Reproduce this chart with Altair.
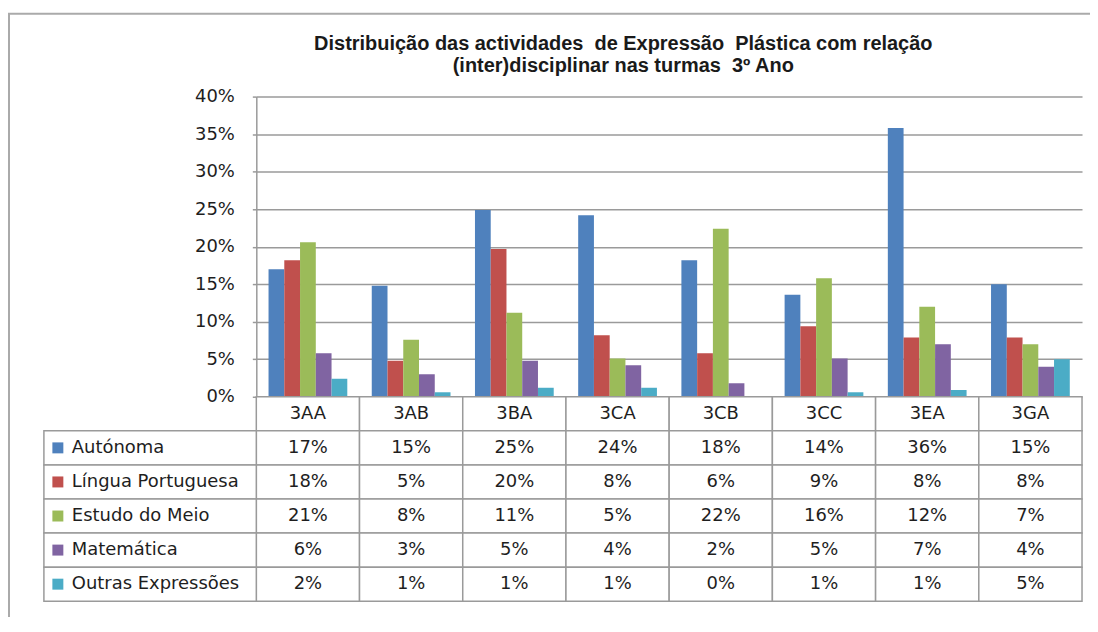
import altair as alt
import pandas as pd

cats = ["3AA", "3AB", "3BA", "3CA", "3CB", "3CC", "3EA", "3GA"]
series = ["Autónoma", "Língua Portuguesa", "Estudo do Meio", "Matemática", "Outras Expressões"]
colors = ["#4F81BD", "#C0504D", "#9BBB59", "#8064A2", "#4BACC6"]

autonoma = [0.170, 0.148, 0.249, 0.242, 0.182, 0.136, 0.358, 0.150]
lingua = [0.182, 0.048, 0.197, 0.082, 0.058, 0.094, 0.079, 0.079]
estudo = [0.206, 0.076, 0.112, 0.051, 0.224, 0.158, 0.120, 0.070]
matematica = [0.058, 0.030, 0.048, 0.042, 0.018, 0.051, 0.070, 0.040]
outras = [0.024, 0.006, 0.012, 0.012, 0.000, 0.006, 0.009, 0.050]

y_ticks = [0, 0.05, 0.10, 0.15, 0.20, 0.25, 0.30, 0.35, 0.40]
header_key = "Turma"
title_lines = ["Distribuição das actividades \u00a0de Expressão \u00a0Plástica com relação",
               "(inter)disciplinar nas turmas \u00a03º Ano"]

vals = [autonoma, lingua, estudo, matematica, outras]
rows = []
for s, v in zip(series, vals):
    for c, x in zip(cats, v):
        rows.append({"cat": c, "series": s, "value": x})
df = pd.DataFrame(rows)
hdr = pd.DataFrame({"cat": cats, "series": [header_key] * len(cats)})
labels_df = pd.DataFrame({"series": series})

FONT = "DejaVu Sans"
FS = 18
GRID = "#9a9a9a"
TXT = "#1e1e1e"

color = alt.Color("series:N", scale=alt.Scale(domain=series, range=colors), legend=None)

bars = alt.Chart(df).mark_bar().encode(
    x=alt.X("cat:N", scale=alt.Scale(domain=cats, paddingInner=0.237, paddingOuter=0.1185), axis=None),
    xOffset=alt.XOffset("series:N", scale=alt.Scale(domain=series, paddingInner=0, paddingOuter=0)),
    y=alt.Y("value:Q", scale=alt.Scale(domain=[0, 0.4], nice=False),
            axis=alt.Axis(values=y_ticks, format=".0%", title=None, grid=True,
                          gridColor=GRID, gridWidth=1.5, domainColor=GRID, domainWidth=1.5,
                          tickColor=GRID, tickWidth=1.5, tickSize=4, labelPadding=18,
                          labelFont=FONT, labelFontSize=FS, labelColor=TXT)),
    color=color,
)

row_domain = [header_key] + series
ty = alt.Scale(domain=row_domain, range=[301, 506], paddingInner=0, paddingOuter=0)
tx = alt.Scale(domain=cats, paddingInner=0, paddingOuter=0)

cell_df = pd.concat([hdr, df[["cat", "series"]]], ignore_index=True)
cells = alt.Chart(cell_df).mark_rect(fill="white", stroke=GRID, strokeWidth=1.5).encode(
    x=alt.X("cat:N", scale=tx, axis=None),
    y=alt.Y("series:N", scale=ty, axis=None),
)
left_cells = alt.Chart(labels_df).mark_rect(fill="white", stroke=GRID, strokeWidth=1.5).encode(
    x=alt.value(-213), x2=alt.value(0),
    y=alt.Y("series:N", scale=ty, axis=None),
)
squares = alt.Chart(labels_df).mark_square(size=121, opacity=1).encode(
    x=alt.value(-199),
    y=alt.Y("series:N", scale=ty, axis=None),
    color=color,
)
row_labels = alt.Chart(labels_df).mark_text(align="left", baseline="middle", font=FONT,
                                            fontSize=FS, color=TXT).encode(
    x=alt.value(-185),
    y=alt.Y("series:N", scale=ty, axis=None),
    text="series:N",
)
hdr_text = alt.Chart(hdr).mark_text(align="center", baseline="middle", font=FONT,
                                    fontSize=FS, color=TXT).encode(
    x=alt.X("cat:N", scale=tx, axis=None),
    y=alt.Y("series:N", scale=ty, axis=None),
    text="cat:N",
)
val_text = alt.Chart(df).mark_text(align="center", baseline="middle", font=FONT,
                                   fontSize=FS, color=TXT).encode(
    x=alt.X("cat:N", scale=tx, axis=None),
    y=alt.Y("series:N", scale=ty, axis=None),
    text=alt.Text("value:Q", format=".0%"),
)
table = alt.layer(cells, left_cells, squares, row_labels, hdr_text, val_text)

frame = alt.Chart(alt.Data(values=[{}])).mark_rect(fill="white", fillOpacity=0, stroke="#aaaaaa",
                                                   strokeWidth=2).encode(
    x=alt.value(-248), y=alt.value(-83), x2=alt.value(1100), y2=alt.value(800),
)

title = alt.Chart(alt.Data(values=[{"t": "\n".join(title_lines)}])).mark_text(
    align="center", baseline="middle", font="Liberation Sans", fontSize=20, fontWeight="bold",
    color="#1a1a1a", lineHeight=22, lineBreak="\n",
).encode(x=alt.value(368), y=alt.value(-53), text="t:N")

chart = alt.layer(frame, bars, table, title).resolve_scale(x="independent", y="independent").properties(
    width=828, height=301,
    autosize=alt.AutoSizeParams(type="none"),
    padding={"left": 249, "top": 88, "right": 8, "bottom": 220},
).configure_view(strokeWidth=0)

chart.save("out.html", embed_options={"renderer": "svg", "actions": False})
